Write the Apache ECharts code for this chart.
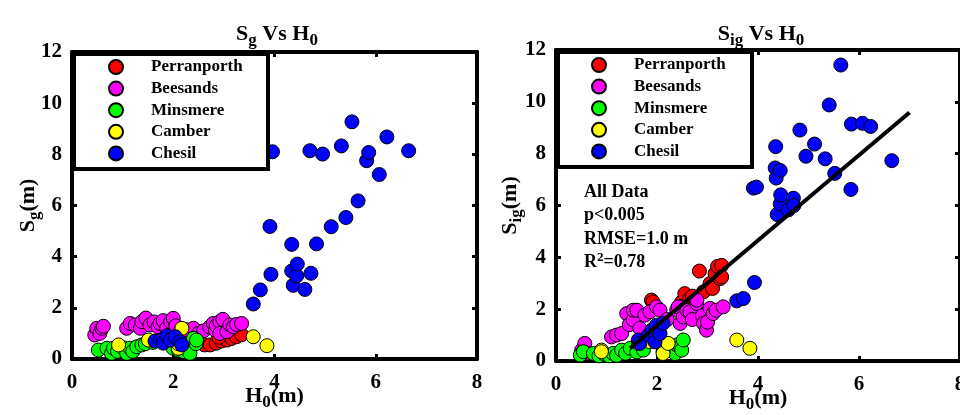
<!DOCTYPE html>
<html><head><meta charset="utf-8">
<script src="https://cdn.jsdelivr.net/npm/echarts@6/dist/echarts.min.js"></script>
<style>html,body{margin:0;padding:0;background:#fff}#c{width:960px;height:415px}</style>
</head><body><div id="c"></div>
<script>
// ---------- data (H0 in m, S in m) ----------
const seriesNames = ['Perranporth','Beesands','Minsmere','Camber','Chesil'];
const xTicks = [0,2,4,6,8];
const yTicks = [0,2,4,6,8,10,12];

const perranSg = [[2.62,0.55],[2.73,0.55],[2.85,0.62],[2.95,0.70],[3.06,0.74],[3.15,0.80],[3.25,0.87],[3.35,0.95],[2.9,0.85]];
const beesandsSg = [[0.45,0.94],[0.49,1.2],[0.55,1.0],[0.59,1.2],[0.62,1.28],[1.08,1.2],[1.15,1.39],[1.25,1.33],[1.35,1.2],[1.38,1.46],[1.46,1.6],[1.54,1.33],[1.62,1.45],[1.7,1.25],[1.74,1.39],[1.8,1.5],[1.87,1.2],[1.95,1.45],[2.0,1.59],[2.05,1.3],[2.15,1.1],[2.25,1.15],[2.4,1.2],[2.5,1.0],[2.6,1.1],[2.72,1.25],[2.79,1.39],[2.83,1.13],[2.85,1.3],[2.92,1.46],[2.92,1.0],[2.98,1.55],[3.06,1.07],[3.12,1.33],[3.19,1.26],[3.25,1.35],[3.35,1.39]];
const minsmereSg = [[0.52,0.35],[0.69,0.42],[0.78,0.22],[0.82,0.42],[0.9,0.3],[1.01,0.44],[1.08,0.22],[1.15,0.42],[1.2,0.3],[1.28,0.48],[1.38,0.55],[1.45,0.6],[1.6,0.65],[2.0,0.42],[2.1,0.35],[2.2,0.29],[2.27,0.48],[2.33,0.22],[2.4,0.81],[2.45,0.6],[2.46,0.74]];
const camberSg = [[0.92,0.55],[1.51,0.74],[1.9,0.75],[2.1,0.42],[2.1,0.6],[2.17,1.2],[3.58,0.87],[3.85,0.52]];
const chesilSg = [[1.64,0.70],[1.75,0.72],[1.8,0.62],[1.87,0.91],[1.94,0.74],[2.04,0.87],[2.13,0.68],[2.17,0.55],
  [3.58,2.15],[3.72,2.70],[3.91,5.18],[3.93,3.31],[3.96,8.10],[4.34,4.48],[4.34,3.44],[4.37,2.88],[4.44,3.25],[4.45,3.71],[4.60,2.72],[4.70,8.14],[4.72,3.35],[4.83,4.50],[4.95,8.01],[5.12,5.17],[5.32,8.33],[5.41,5.53],[5.53,9.27],[5.65,6.18],[5.82,7.75],[5.86,8.07],[6.07,7.21],[6.22,8.68],[6.65,8.14]];

const perranSig = [[1.89,2.35],[1.92,2.28],[2.49,2.28],[2.55,2.60],[2.65,2.4],[2.7,2.5],[2.84,3.47],[2.92,2.67],[3.05,2.99],[3.1,2.8],[3.15,3.37],[3.20,3.65],[3.25,3.18],[3.28,3.69],[3.28,3.24]];
const beesandsSig = [[0.51,0.42],[0.57,0.68],[0.6,0.3],[1.10,0.93],[1.2,1.0],[1.30,1.06],[1.40,1.83],[1.45,1.4],[1.53,1.58],[1.53,1.96],[1.60,1.96],[1.66,1.26],[1.76,1.77],[1.86,1.90],[1.99,2.09],[2.06,1.96],[2.2,1.6],[2.39,1.96],[2.42,2.09],[2.46,1.45],[2.52,1.70],[2.59,1.96],[2.65,1.90],[2.7,1.6],[2.79,2.22],[2.79,2.35],[2.9,1.75],[2.92,1.45],[2.98,1.19],[3.0,1.5],[3.05,2.03],[3.11,1.83],[3.17,1.96],[3.31,2.09]];
const minsmereSig = [[0.48,0.23],[0.54,0.36],[0.74,0.29],[0.85,0.2],[0.94,0.29],[1.05,0.2],[1.13,0.29],[1.20,0.22],[1.30,0.42],[1.38,0.3],[1.47,0.49],[1.6,0.35],[1.73,0.42],[2.26,0.42],[2.3,0.5],[2.36,0.29],[2.39,0.62],[2.46,0.55],[2.49,0.42],[2.52,0.81]];
const camberSig = [[0.90,0.42],[0.90,0.36],[1.63,0.68],[1.85,0.75],[2.12,0.36],[2.12,0.29],[2.22,0.68],[3.58,0.81],[3.84,0.49]];
const chesilSig = [[1.63,0.81],[1.66,0.68],[1.83,1.0],[1.9,1.2],[1.96,1.06],[1.96,0.74],[1.99,1.32],[1.99,1.38],[2.06,1.06],[2.12,1.46],
  [3.58,2.32],[3.71,2.41],[3.91,6.67],[3.93,3.03],[3.97,6.71],[4.34,7.45],[4.35,8.27],[4.36,7.06],[4.38,5.65],[4.44,7.35],[4.44,6.06],[4.45,6.41],[4.60,5.83],[4.70,6.28],[4.71,6.0],[4.83,8.91],[4.95,7.90],[5.12,8.37],[5.33,7.80],[5.41,9.88],[5.52,7.24],[5.64,11.42],[5.84,6.62],[5.85,9.14],[6.07,9.17],[6.23,9.05],[6.65,7.73]];

const regLine = [[1.47,0.49],[7.0,9.59]];
const statsLines = ['All Data','p<0.005','RMSE=1.0 m','R2=0.78'];

// ---------- chart ----------
const colors = ['#ff0000','#ff00ff','#00ff00','#ffff00','#0000ff'];
const FONT = '"Liberation Serif","Times New Roman",serif';
const leftSets = [perranSg, beesandsSg, minsmereSg, camberSg, chesilSg];
const rightSets = [perranSig, beesandsSig, minsmereSig, camberSig, chesilSig];

const grids = [
  {left:72, top:52, width:405, height:307, outerBoundsMode:'none', containLabel:false},
  {left:556, top:50, width:404, height:311, outerBoundsMode:'none', containLabel:false}
];
const subRich = {
  m:{fontFamily:FONT,fontWeight:'bold',fontSize:22,color:'#000'},
  s:{fontFamily:FONT,fontWeight:'bold',fontSize:17,color:'#000',padding:[13,0,0,0]}
};
function xAx(g, bottom){
  return {gridIndex:g, type:'value', min:0, max:8, interval:2, position: bottom?'bottom':'top',
    axisLine:{onZero:false, lineStyle:{color:'#000',width:4}},
    axisTick:{inside:true,length:5,lineStyle:{color:'#000',width:3}},
    axisLabel:{show:bottom, margin:13, fontFamily:FONT,fontWeight:'bold',fontSize:21,color:'#000'},
    splitLine:{show:false},
    name: bottom ? '{m|H}{s|0}{m|(m)}' : '', nameLocation:'middle', nameGap:22, nameMoveOverlap:false,
    nameTextStyle:{rich:subRich}};
}
function yAx(g, left, nm, gap){
  return {gridIndex:g, type:'value', min:0, max:12, interval:2, position: left?'left':'right',
    axisLine:{onZero:false, lineStyle:{color:'#000',width:4}},
    axisTick:{inside:true,length:5,lineStyle:{color:'#000',width:3}},
    axisLabel:{show:left, margin:10, fontFamily:FONT,fontWeight:'bold',fontSize:21,color:'#000'},
    splitLine:{show:false},
    name: left ? nm : '', nameLocation:'middle', nameGap:gap||30, nameRotate:90, nameMoveOverlap:false,
    nameTextStyle:{rich:subRich}};
}
const series = [];
[leftSets, rightSets].forEach((sets, g) => {
  sets.forEach((d, i) => {
    series.push({type:'scatter', name:seriesNames[i], xAxisIndex:g, yAxisIndex:g, data:d,
      symbol:'circle', symbolSize:14, z:2+i,
      itemStyle:{color:colors[i], borderColor:'#000', borderWidth:1, opacity:1}});
  });
});
series.push({type:'line', xAxisIndex:1, yAxisIndex:1, data:regLine, symbol:'none', z:10,
  lineStyle:{color:'#000', width:4}, silent:true});

const legendCommon = {orient:'vertical', itemWidth:60, itemHeight:14, itemGap:4.6, icon:'circle',
  data:seriesNames, textStyle:{fontFamily:FONT,fontWeight:'bold',fontSize:17,color:'#000'}, z:20, padding:0};

const option = {
  animation:false,
  backgroundColor:'#fff',
  grid: grids,
  xAxis:[xAx(0,true), xAx(1,true), xAx(0,false), xAx(1,false)],
  yAxis:[yAx(0,true,'{m|S}{s|g}{m|(m)}',29), yAx(1,true,'{m|S}{s|ig}{m|(m)}',31), yAx(0,false), yAx(1,false)],
  title:[
    {text:'{m|S}{s|g}{m| Vs H}{s|0}', left:272, top:14, textAlign:'center', textStyle:{rich:subRich}},
    {text:'{m|S}{s|ig}{m| Vs H}{s|0}', left:756, top:14, textAlign:'center', textStyle:{rich:subRich}}
  ],
  legend:[
    Object.assign({left:108, top:58.5}, legendCommon),
    Object.assign({left:591, top:56.5}, legendCommon)
  ],
  graphic:[
    {type:'rect', left:72, top:52, z:15, shape:{width:194, height:115}, style:{fill:'#fff', stroke:'#000', lineWidth:4}},
    {type:'rect', left:556, top:50, z:15, shape:{width:194, height:115}, style:{fill:'#fff', stroke:'#000', lineWidth:4}},
    {type:'text', left:584, top:183, z:15, style:{
      text: statsLines.map(t => t.indexOf('R2')===0 ? '{a|R}{p|2}{a|'+t.slice(2)+'}' : '{a|'+t+'}').join('\n'),
      rich:{a:{fontFamily:FONT,fontWeight:'bold',fontSize:18,color:'#000',lineHeight:23.5},
            p:{fontFamily:FONT,fontWeight:'bold',fontSize:13,color:'#000',lineHeight:23.5,padding:[0,0,9,0]}}}}
  ],
  series: series
};
const chart = echarts.init(document.getElementById('c'), null, {renderer:'canvas'});
chart.setOption(option);
</script></body></html>
